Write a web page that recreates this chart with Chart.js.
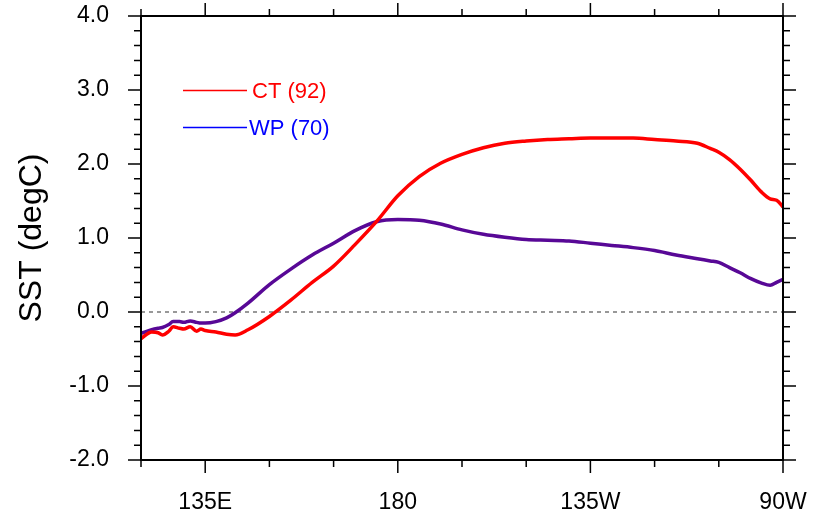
<!DOCTYPE html>
<html>
<head>
<meta charset="utf-8">
<script src="https://cdn.jsdelivr.net/npm/chart.js@4.4.0/dist/chart.umd.min.js"></script>
<style>
  html, body { margin: 0; padding: 0; background: #fff; }
  #wrap { width: 823px; height: 517px; }
</style>
</head>
<body>
<div id="wrap"><canvas id="chart1" width="823" height="517"></canvas></div>
<script>
// longitude (degrees east, 270 = 90W)
var lon = [120, 122.5, 124, 125, 126.5, 127.5, 129, 130, 131.5, 133, 134, 135, 137.5, 140, 142, 145,
           150, 155, 160, 165, 170, 175, 180, 185, 190, 195, 200, 205, 210, 215, 220, 225, 230, 235,
           240, 245, 250, 253, 255, 257.5, 260, 262.5, 265, 267, 268.5, 270];

// CT (92) composite SST anomaly
var ct = [-0.36, -0.27, -0.28, -0.31, -0.26, -0.20, -0.22, -0.23, -0.20, -0.26, -0.23, -0.25, -0.27, -0.30, -0.31, -0.24,
          -0.06, 0.16, 0.40, 0.62, 0.91, 1.22, 1.57, 1.83, 2.01, 2.13, 2.22, 2.28, 2.31, 2.33, 2.34, 2.35, 2.35, 2.35,
          2.33, 2.31, 2.28, 2.21, 2.16, 2.06, 1.93, 1.78, 1.62, 1.53, 1.51, 1.42];

// WP (70) composite SST anomaly
var wp = [-0.29, -0.24, -0.22, -0.21, -0.17, -0.13, -0.13, -0.14, -0.12, -0.14, -0.15, -0.15, -0.13, -0.08, -0.01, 0.12,
          0.37, 0.58, 0.77, 0.93, 1.10, 1.22, 1.25, 1.24, 1.19, 1.11, 1.05, 1.01, 0.98, 0.97, 0.96, 0.93, 0.90, 0.87,
          0.83, 0.77, 0.72, 0.69, 0.67, 0.60, 0.53, 0.45, 0.39, 0.36, 0.40, 0.44];

var xTickValues = [135, 180, 225, 270];
var xTickLabels = ["135E", "180", "135W", "90W"];
var yTickValues = [-2, -1, 0, 1, 2, 3, 4];

var legendLabels = ["CT (92)", "WP (70)"];

function toPoints(ys) {
    var pts = [];
    for (var i = 0; i < lon.length; i++) {
        pts.push({x: lon[i], y: ys[i]});
    }
    return pts;
}

function noScalePadding(scale) {
    scale.paddingTop = 0;
    scale.paddingBottom = 0;
    scale.paddingLeft = 0;
    scale.paddingRight = 0;
}

// frame, ticks on all sides, zero line and the legend (NCL style)
var nclFrame = {
    id: "nclFrame",
    beforeDatasetsDraw: function (chart) {
        var ctx = chart.ctx, a = chart.chartArea, y = chart.scales.y;
        var y0 = y.getPixelForValue(0);
        ctx.save();
        ctx.strokeStyle = "#333";
        ctx.lineWidth = 1;
        ctx.setLineDash([4, 4]);
        ctx.beginPath();
        ctx.moveTo(a.left, y0);
        ctx.lineTo(a.right, y0);
        ctx.stroke();
        ctx.restore();
    },
    afterDraw: function (chart) {
        var ctx = chart.ctx, a = chart.chartArea;
        var xs = chart.scales.x, ys = chart.scales.y;
        ctx.save();
        ctx.strokeStyle = "#000";
        ctx.lineWidth = 2;
        ctx.strokeRect(a.left, a.top, a.right - a.left, a.bottom - a.top);

        ctx.lineWidth = 1.5;
        ctx.beginPath();
        for (var v = 120; v <= 270; v += 15) {
            var px = xs.getPixelForValue(v);
            var len = (xTickValues.indexOf(v) >= 0) ? 13 : 7;
            ctx.moveTo(px, a.bottom);
            ctx.lineTo(px, a.bottom + len);
            ctx.moveTo(px, a.top);
            ctx.lineTo(px, a.top - len);
        }
        for (var k = -10; k <= 20; k++) {
            var val = k / 5;
            var py = ys.getPixelForValue(val);
            var ylen = (k % 5 === 0) ? 13 : 7;
            ctx.moveTo(a.left, py);
            ctx.lineTo(a.left - ylen, py);
            ctx.moveTo(a.right, py);
            ctx.lineTo(a.right + ylen, py);
        }
        ctx.stroke();

        // legend
        var lgColors = ["rgb(255,0,0)", "rgb(0,0,255)"];
        var lgY = [90.5, 127.5];
        var lgText = [252, 249];
        ctx.lineWidth = 1.5;
        ctx.font = "22px 'Liberation Sans', Arial, sans-serif";
        ctx.textBaseline = "middle";
        ctx.textAlign = "left";
        for (var i = 0; i < legendLabels.length; i++) {
            ctx.strokeStyle = lgColors[i];
            ctx.beginPath();
            ctx.moveTo(183, lgY[i]);
            ctx.lineTo(247, lgY[i]);
            ctx.stroke();
            ctx.fillStyle = lgColors[i];
            ctx.fillText(legendLabels[i], lgText[i], lgY[i] + 1);
        }
        ctx.restore();
    }
};

new Chart(document.getElementById("chart1"), {
    type: "line",
    data: {
        datasets: [{
            label: legendLabels[0],
            data: toPoints(ct),
            borderColor: "rgb(255,0,0)",
            borderWidth: 3.5,
            pointRadius: 0,
            cubicInterpolationMode: "monotone",
            fill: false
        }, {
            label: legendLabels[1],
            data: toPoints(wp),
            borderColor: "rgb(88,8,150)",
            borderWidth: 3.5,
            pointRadius: 0,
            cubicInterpolationMode: "monotone",
            fill: false
        }]
    },
    options: {
        responsive: false,
        devicePixelRatio: 1,
        animation: false,
        events: [],
        layout: { padding: { top: 16, right: 40, left: 0, bottom: 0 } },
        plugins: { legend: { display: false }, tooltip: { enabled: false } },
        scales: {
            x: {
                type: "linear",
                min: 120,
                max: 270,
                grid: { display: false, drawTicks: false },
                border: { display: false },
                afterBuildTicks: function (scale) {
                    scale.ticks = xTickValues.map(function (v) { return {value: v}; });
                },
                afterFit: function (scale) {
                    scale.height = 57;
                    noScalePadding(scale);
                },
                ticks: {
                    autoSkip: false,
                    maxRotation: 0,
                    padding: 29,
                    color: "#000",
                    font: { family: "'Liberation Sans', Arial, sans-serif", size: 23 },
                    callback: function (v) {
                        var i = xTickValues.indexOf(v);
                        return i >= 0 ? xTickLabels[i] : "";
                    }
                }
            },
            y: {
                min: -2,
                max: 4,
                grid: { display: false, drawTicks: false },
                border: { display: false },
                afterBuildTicks: function (scale) {
                    scale.ticks = yTickValues.map(function (v) { return {value: v}; });
                },
                afterFit: function (scale) {
                    scale.width = 141;
                    noScalePadding(scale);
                },
                ticks: {
                    padding: 32,
                    color: "#000",
                    font: { family: "'Liberation Sans', Arial, sans-serif", size: 23 },
                    callback: function (v) { return v.toFixed(1); }
                },
                title: {
                    display: true,
                    text: "SST (degC)",
                    color: "#000",
                    padding: { top: 13, bottom: 0 },
                    font: { family: "'Liberation Sans', Arial, sans-serif", size: 32 }
                }
            }
        }
    },
    plugins: [nclFrame]
});
</script>
</body>
</html>
